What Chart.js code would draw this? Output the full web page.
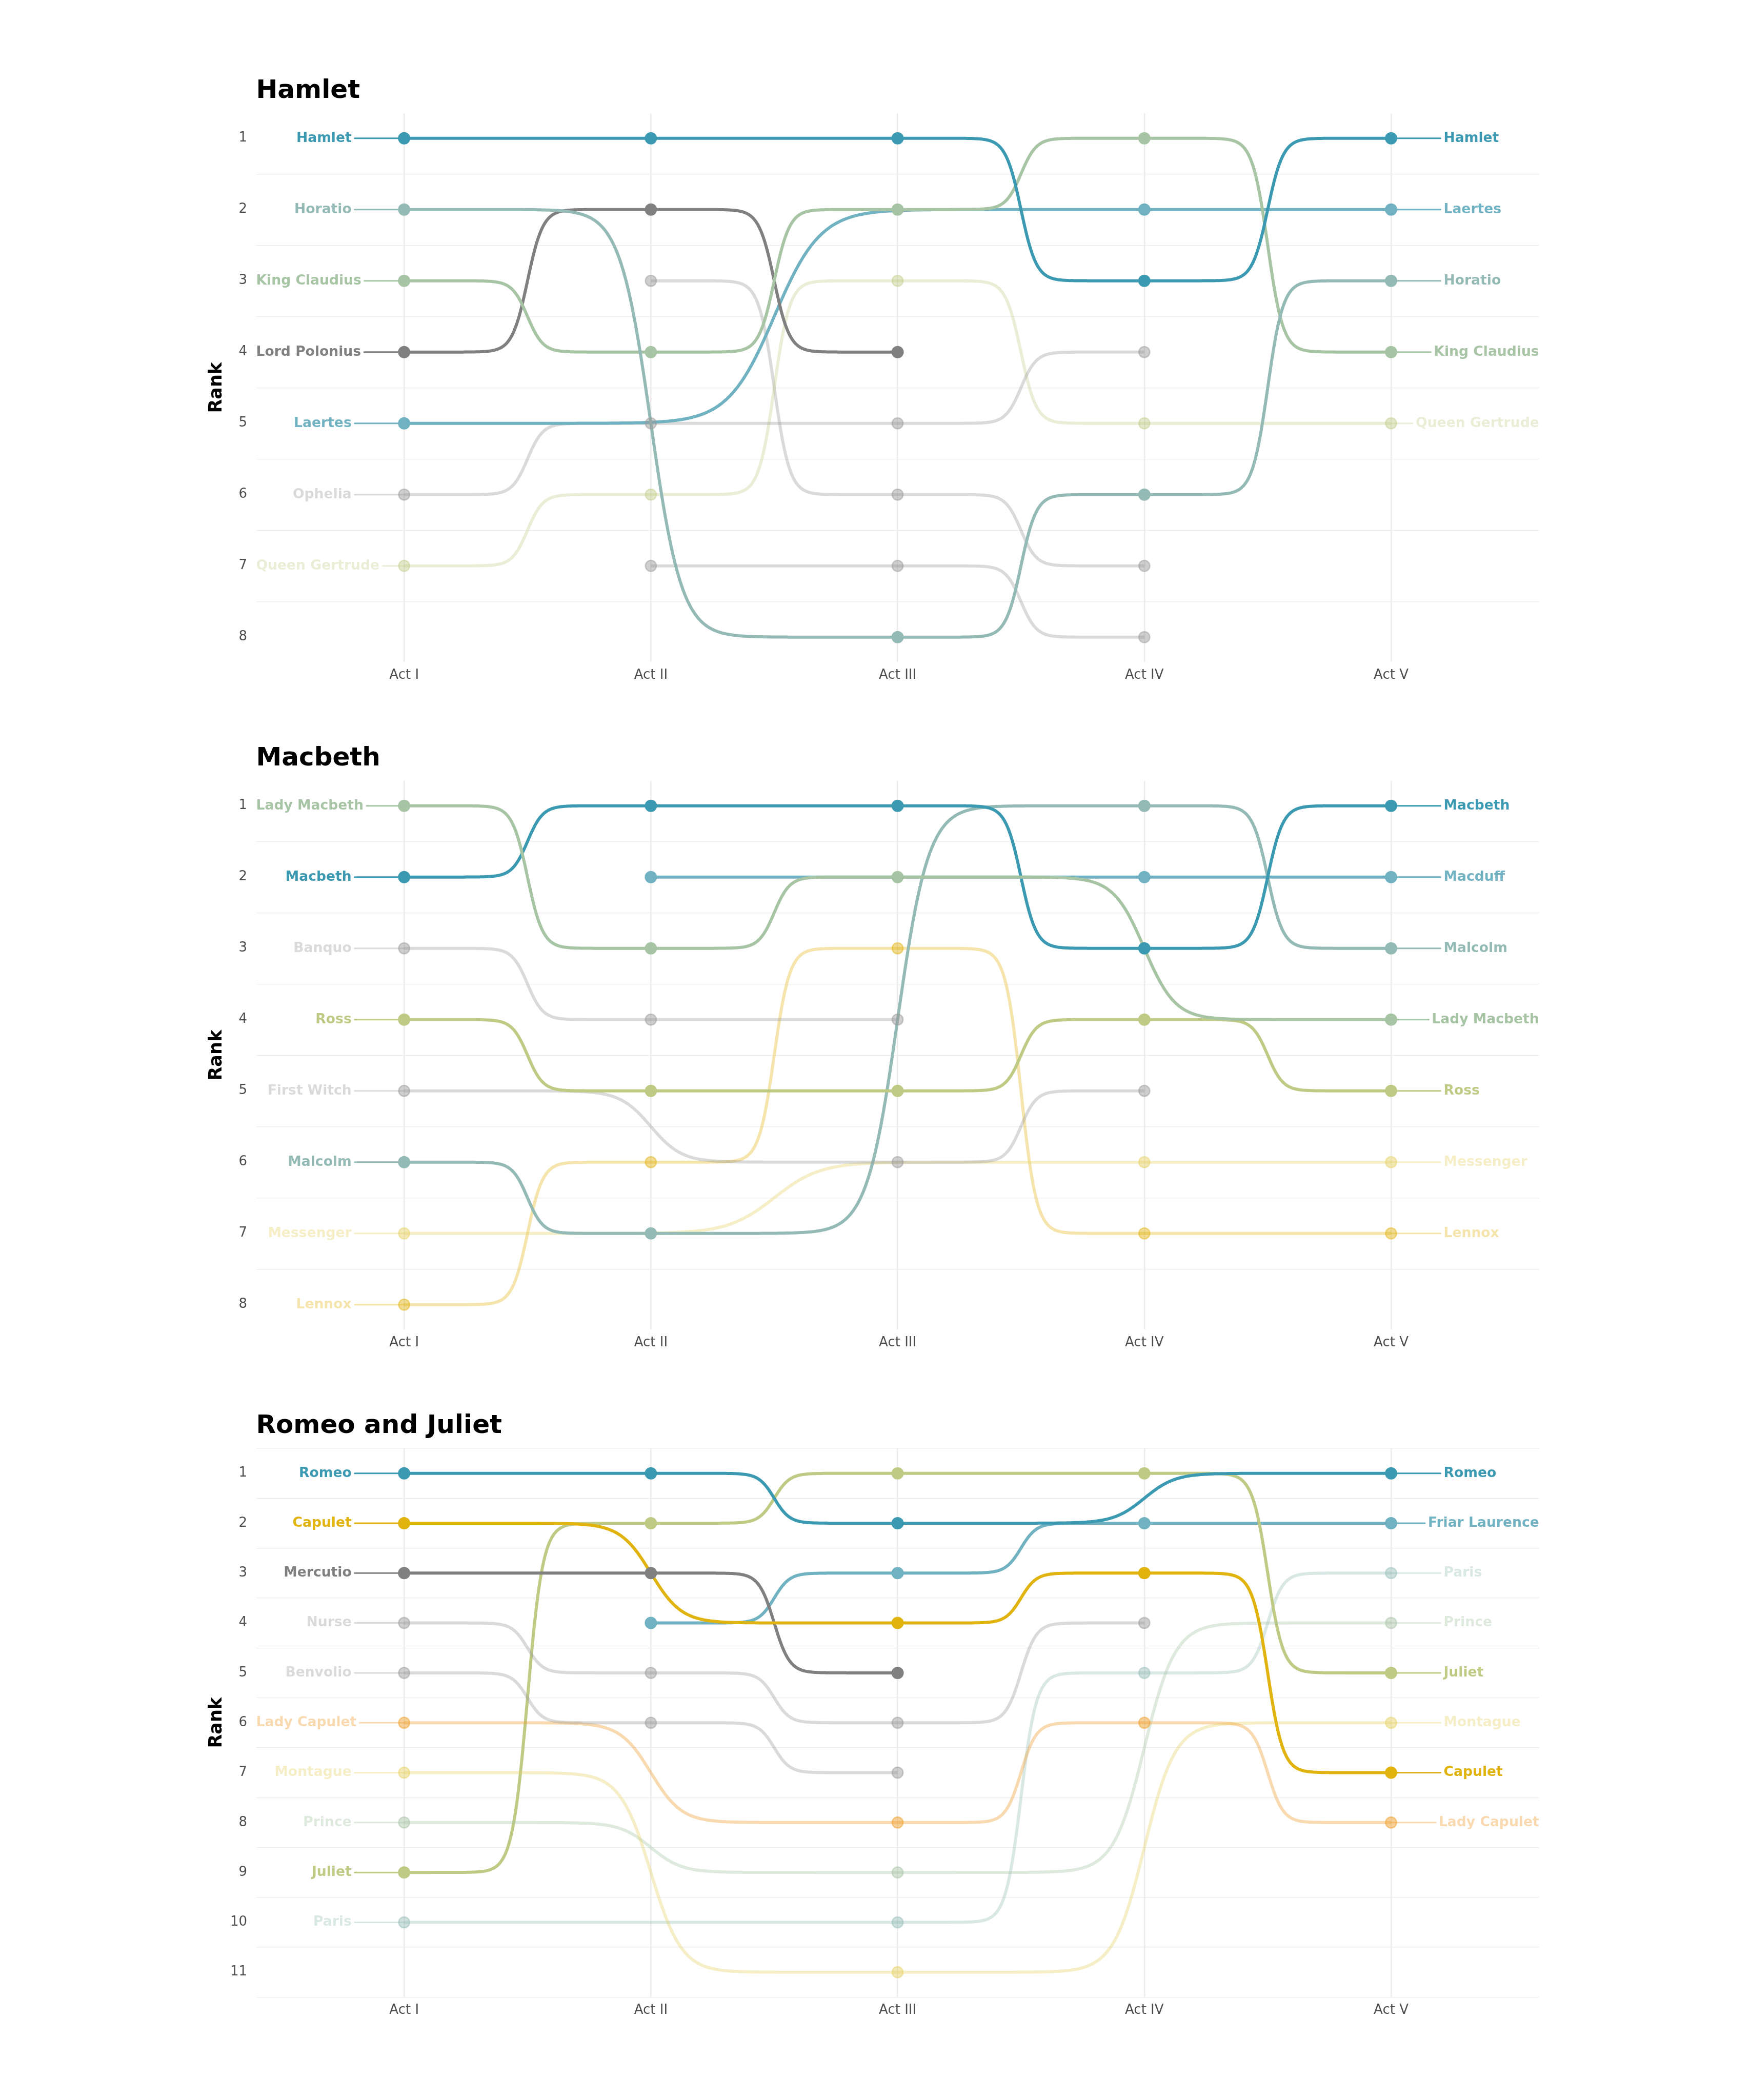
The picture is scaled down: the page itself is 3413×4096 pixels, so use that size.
<!DOCTYPE html>
<html>
<head>
<meta charset="utf-8">
<script src="https://cdn.jsdelivr.net/npm/chart.js@4.4.1/dist/chart.umd.min.js"></script>
<style>
html,body{margin:0;padding:0;background:#fff;}
#wrap{position:relative;width:3413px;height:4096px;overflow:hidden;background:#fff;}
#wrap canvas{position:absolute;left:0;}
</style>
</head>
<body>
<div id="wrap"></div>
<script>
// ---------------- data ----------------
const acts = ['Act I', 'Act II', 'Act III', 'Act IV', 'Act V'];
const plays = ['Hamlet', 'Macbeth', 'Romeo and Juliet'];

// colours
const teal = 'rgba(59,154,178,1)';
const lightBlue = 'rgba(112,178,194,1)';
const greyTeal = 'rgba(147,186,181,1)';
const sage = 'rgba(167,196,164,1)';
const olive = 'rgba(191,202,132,1)';
const gold = 'rgba(225,179,15,1)';
const darkGrey = 'rgba(128,128,128,1)';
const fadedGrey = 'rgba(153,153,153,0.36)';
const fadedOlive = 'rgba(191,202,132,0.33)';
const fadedGold = 'rgba(225,179,15,0.35)';
const fadedYellow = 'rgba(230,210,106,0.38)';
const fadedOrange = 'rgba(238,159,47,0.38)';
const fadedSage = 'rgba(167,196,164,0.36)';
const fadedGreyTeal = 'rgba(147,186,181,0.35)';

// Hamlet
const hamletNames = ['Hamlet', 'Horatio', 'King Claudius', 'Lord Polonius', 'Laertes', 'Ophelia', 'Queen Gertrude', 'Rosencrantz', 'Guildenstern'];
const hamletRanks = [
  [1, 1, 1, 3, 1],
  [2, null, 8, 6, 3],
  [3, 4, 2, 1, 4],
  [4, 2, 4, null, null],
  [5, null, null, 2, 2],
  [6, 5, 5, 4, null],
  [7, 6, 3, 5, 5],
  [null, 3, 6, 7, null],
  [null, 7, 7, 8, null]
];
const hamletColors = [teal, greyTeal, sage, darkGrey, lightBlue, fadedGrey, fadedOlive, fadedGrey, fadedGrey];

// Macbeth
const macbethNames = ['Lady Macbeth', 'Macbeth', 'Banquo', 'Ross', 'First Witch', 'Malcolm', 'Messenger', 'Lennox', 'Macduff'];
const macbethRanks = [
  [1, 3, 2, null, 4],
  [2, 1, 1, 3, 1],
  [3, 4, 4, null, null],
  [4, 5, 5, 4, 5],
  [5, null, 6, 5, null],
  [6, 7, null, 1, 3],
  [7, null, null, 6, 6],
  [8, 6, 3, 7, 7],
  [null, 2, null, 2, 2]
];
const macbethColors = [sage, teal, fadedGrey, olive, fadedGrey, greyTeal, fadedYellow, fadedGold, lightBlue];

// Romeo and Juliet
const romeoNames = ['Romeo', 'Capulet', 'Mercutio', 'Nurse', 'Benvolio', 'Lady Capulet', 'Montague', 'Prince', 'Juliet', 'Paris', 'Friar Laurence'];
const romeoRanks = [
  [1, 1, 2, null, 1],
  [2, null, 4, 3, 7],
  [3, 3, 5, null, null],
  [4, 5, 6, 4, null],
  [5, 6, 7, null, null],
  [6, null, 8, 6, 8],
  [7, null, 11, null, 6],
  [8, null, 9, null, 4],
  [9, 2, 1, 1, 5],
  [10, null, 10, 5, 3],
  [null, 4, 3, 2, 2]
];
const romeoColors = [teal, gold, darkGrey, fadedGrey, fadedGrey, fadedOrange, fadedYellow, fadedSage, olive, fadedGreyTeal, lightBlue];

const playNames = [hamletNames, macbethNames, romeoNames];
const playRanks = [hamletRanks, macbethRanks, romeoRanks];
const playColors = [hamletColors, macbethColors, romeoColors];

// ---------------- styling ----------------
const FONT = 'DejaVu Sans';
const CANVAS_W = 3413, CANVAS_H = 1302;
const PLOT_TOPS = [221.2, 1523.1, 2825.3];
const LINE_W = 6, SEG_W = 3, SMOOTH = 16, STEPS = 200;
const LABEL_FONT = 'bold 26.6px "DejaVu Sans"';
const LABEL_OFFSET = 0.213, LABEL_GAP = 6;

function pointColor(c) {
  const m = c.match(/rgba\((\d+),(\d+),(\d+),([\d.]+)\)/);
  const a = parseFloat(m[4]);
  const na = a < 1 ? Math.min(1, a * 1.3) : 1;
  return `rgba(${m[1]},${m[2]},${m[3]},${na})`;
}

function labelLayout(chart) {
  const ctx = chart.ctx, xs = chart.scales.x, ys = chart.scales.y, area = chart.chartArea;
  const unit = xs.getPixelForValue(2) - xs.getPixelForValue(1);
  const firstX = xs.getPixelForValue(1), lastX = xs.getPixelForValue(acts.length);
  ctx.save();
  ctx.font = LABEL_FONT;
  const out = [];
  chart.data.datasets.forEach(d => {
    const first = d.data[0], last = d.data[d.data.length - 1];
    const w = ctx.measureText(d.label).width;
    if (first.x === 1) {
      let right = firstX - LABEL_OFFSET * unit;
      if (right - w < area.left) right = area.left + w;
      out.push({text: d.label, color: d.lineColor, x: right, align: 'right',
        y: ys.getPixelForValue(first.y), s0: right + LABEL_GAP, s1: firstX});
    }
    if (last.x === acts.length) {
      let left = lastX + LABEL_OFFSET * unit;
      if (left + w > area.right) left = area.right - w;
      out.push({text: d.label, color: d.lineColor, x: left, align: 'left',
        y: ys.getPixelForValue(last.y), s0: lastX, s1: left - LABEL_GAP});
    }
  });
  ctx.restore();
  return out;
}

const bumpPlugin = {
  id: 'bump',
  beforeDatasetsDraw(chart) {
    const ctx = chart.ctx, xs = chart.scales.x, ys = chart.scales.y;
    const ds = chart.data.datasets;
    ctx.save();
    // label connectors
    labelLayout(chart).forEach(l => {
      ctx.strokeStyle = l.color;
      ctx.lineWidth = SEG_W;
      ctx.lineCap = 'round';
      ctx.beginPath();
      ctx.moveTo(l.s0, l.y);
      ctx.lineTo(l.s1, l.y);
      ctx.stroke();
    });
    // sigmoid bump lines
    for (let i = ds.length - 1; i >= 0; i--) {
      const pts = ds[i].data;
      if (pts.length < 2) continue;
      ctx.strokeStyle = ds[i].lineColor;
      ctx.lineWidth = LINE_W;
      ctx.lineCap = 'butt';
      ctx.lineJoin = 'round';
      ctx.beginPath();
      for (let j = 0; j < pts.length - 1; j++) {
        const a = pts[j], b = pts[j + 1];
        for (let k = 0; k <= STEPS; k++) {
          const u = -SMOOTH + 2 * SMOOTH * k / STEPS;
          const t = (u + SMOOTH) / (2 * SMOOTH);
          const lg = Math.exp(u) / (Math.exp(u) + 1);
          const px = xs.getPixelForValue(a.x + t * (b.x - a.x));
          const py = ys.getPixelForValue(a.y + lg * (b.y - a.y));
          if (j === 0 && k === 0) ctx.moveTo(px, py); else ctx.lineTo(px, py);
        }
      }
      ctx.stroke();
    }
    ctx.restore();
  },
  afterDatasetsDraw(chart) {
    const ctx = chart.ctx;
    ctx.save();
    ctx.font = LABEL_FONT;
    ctx.textBaseline = 'middle';
    labelLayout(chart).forEach(l => {
      ctx.fillStyle = l.color;
      ctx.textAlign = l.align;
      ctx.fillText(l.text, l.x, l.y);
    });
    ctx.restore();
  }
};

const wrap = document.getElementById('wrap');

plays.forEach((play, p) => {
  const names = playNames[p], ranks = playRanks[p], colors = playColors[p];
  const maxRank = Math.max(...ranks.flat().filter(v => v != null));
  const yMin = 1 - 0.05 * (maxRank - 1);
  const yMax = maxRank + 0.05 * (maxRank - 1);
  const yTicks = [];
  for (let k = Math.ceil(yMin * 2 - 1e-9); k <= Math.floor(yMax * 2 + 1e-9); k++) yTicks.push(k / 2);

  const canvas = document.createElement('canvas');
  canvas.width = CANVAS_W;
  canvas.height = CANVAS_H;
  canvas.style.width = CANVAS_W + 'px';
  canvas.style.height = CANVAS_H + 'px';
  canvas.style.top = (PLOT_TOPS[p] - 150) + 'px';
  wrap.appendChild(canvas);

  new Chart(canvas, {
    type: 'scatter',
    data: {
      datasets: names.map((n, i) => {
        const pc = pointColor(colors[i]);
        return {
          label: n,
          lineColor: colors[i],
          data: ranks[i].map((r, k) => r == null ? null : {x: k + 1, y: r}).filter(v => v),
          showLine: false,
          pointRadius: 10.7,
          pointBorderWidth: 2.6,
          pointBackgroundColor: pc,
          pointBorderColor: pc,
          pointHoverRadius: 10.7
        };
      })
    },
    plugins: [bumpPlugin],
    options: {
      responsive: false,
      devicePixelRatio: 1,
      animation: false,
      events: [],
      layout: {padding: {left: 380, right: 411.3, top: 77.2, bottom: 21.6}},
      plugins: {
        legend: {display: false},
        tooltip: {enabled: false},
        title: {
          display: true, text: play, align: 'start', fullSize: false, color: '#000000',
          font: {family: FONT, size: 50, weight: 'bold', lineHeight: 1.2},
          padding: {top: 0, bottom: 12.8}
        }
      },
      scales: {
        x: {
          type: 'linear', min: 0.4, max: 5.6,
          afterBuildTicks: s => { s.ticks = acts.map((a, i) => ({value: i + 1})); },
          afterFit: s => { s.height = 60; },
          border: {display: false},
          grid: {drawTicks: false, color: '#ebebeb', lineWidth: 2.5},
          ticks: {
            autoSkip: false, maxRotation: 0, padding: 10.2, color: '#4d4d4d',
            font: {family: FONT, size: 26},
            callback: (v, i) => acts[i]
          }
        },
        y: {
          type: 'linear', reverse: true, min: yMin, max: yMax,
          afterBuildTicks: s => { s.ticks = yTicks.map(v => ({value: v})); },
          afterFit: s => { s.width = 119.5; },
          border: {display: false},
          grid: {
            drawTicks: false, lineWidth: 1.3,
            color: c => (c.tick && Number.isInteger(c.tick.value)) ? 'rgba(0,0,0,0)' : '#ebebeb'
          },
          ticks: {
            autoSkip: false, padding: 17.5, color: '#4d4d4d',
            font: {family: FONT, size: 26},
            callback: v => Number.isInteger(v) ? String(v) : ''
          },
          title: {
            display: true, text: 'Rank', color: '#000000',
            font: {family: FONT, size: 35, weight: 'bold', lineHeight: 1.2},
            padding: {top: 22, bottom: 0}
          }
        }
      }
    }
  });
});
</script>
</body>
</html>
